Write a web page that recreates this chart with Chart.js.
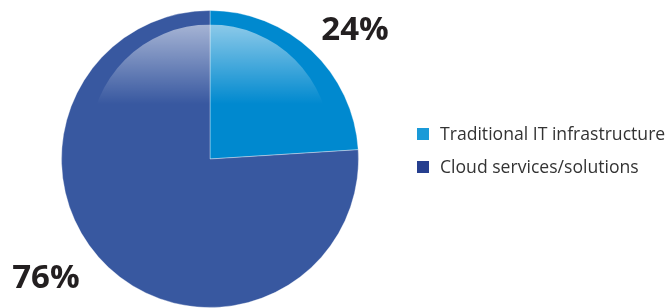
<!DOCTYPE html>
<html>
<head>
<meta charset="utf-8">
<script src="https://cdn.jsdelivr.net/npm/chart.js@4"></script>
<style>
  html, body { margin: 0; padding: 0; background: #fff; }
  #wrap { position: relative; width: 670px; height: 308px; }
  #legend { position: absolute; left: 417px; top: 120px; font-family: "Open Sans", sans-serif; font-size: 17.6px; color: #333; }
  #legend div { height: 33px; line-height: 26px; white-space: nowrap; }
  #legend span.box { display: inline-block; width: 12px; height: 12px; margin-right: 11px; vertical-align: 0px; }
</style>
</head>
<body>
<div id="wrap">
  <canvas id="pie" width="670" height="308"></canvas>
  <div id="legend"></div>
</div>
<script>
var categories = ['Traditional IT infrastructure', 'Cloud services/solutions'];
var shares     = [24, 76];
var sliceColors  = ['#0089cf', '#3858a0'];
var legendColors = ['#1a9ad8', '#263f8f'];

// percent labels, placed outside the slices
var percentLabels = {
  id: 'percentLabels',
  afterDatasetsDraw: function (chart) {
    var ctx = chart.ctx, arcs = chart.getDatasetMeta(0).data;
    var offsets = [[21, 4], [-40, -12]];
    ctx.save();
    ctx.font = 'bold 33px "Open Sans", sans-serif';
    ctx.fillStyle = '#231f20';
    ctx.textAlign = 'center';
    ctx.textBaseline = 'middle';
    arcs.forEach(function (arc, i) {
      var mid = (arc.startAngle + arc.endAngle) / 2;
      var d = arc.outerRadius * 1.22;
      var x = arc.x + Math.cos(mid) * d + offsets[i][0];
      var y = arc.y + Math.sin(mid) * d + offsets[i][1];
      ctx.fillText(shares[i] + '%', x, y);
    });
    ctx.restore();
  }
};

// glossy highlight on top of the pie
var gloss = {
  id: 'gloss',
  afterDatasetsDraw: function (chart) {
    var ctx = chart.ctx, arc = chart.getDatasetMeta(0).data[0];
    var r = arc.outerRadius, cx = arc.x, cy = arc.y;
    var top = cy - r + 14;
    var gr = r * 0.81;
    ctx.save();
    ctx.beginPath();
    ctx.arc(cx, top + gr, gr, 0, Math.PI * 2);
    ctx.clip();
    var g = ctx.createLinearGradient(0, top, 0, cy - r * 0.37);
    g.addColorStop(0, 'rgba(255,255,255,0.55)');
    g.addColorStop(1, 'rgba(255,255,255,0)');
    ctx.fillStyle = g;
    ctx.fillRect(cx - r, top, 2 * r, r);
    ctx.restore();
  }
};

new Chart(document.getElementById('pie'), {
  type: 'pie',
  data: {
    labels: categories,
    datasets: [{
      data: shares,
      backgroundColor: sliceColors,
      borderColor: 'rgba(255,255,255,0.35)',
      borderWidth: 1
    }]
  },
  options: {
    responsive: false,
    animation: false,
    layout: { padding: { left: 61, top: 10, right: 311, bottom: 0 } },
    plugins: { legend: { display: false }, tooltip: { enabled: false } }
  },
  plugins: [gloss, percentLabels]
});

var legend = document.getElementById('legend');
categories.forEach(function (name, i) {
  var row = document.createElement('div');
  row.innerHTML = '<span class="box" style="background:' + legendColors[i] + '"></span>' + name;
  legend.appendChild(row);
});
</script>
</body>
</html>
